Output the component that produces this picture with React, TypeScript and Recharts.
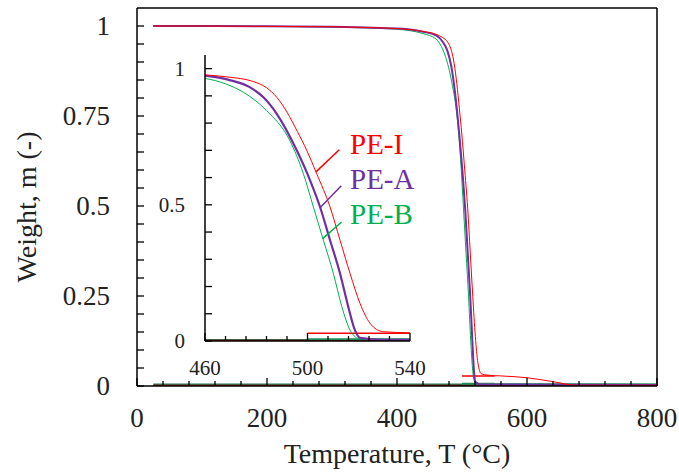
import React from 'react';
import { LineChart, Line, XAxis, YAxis, ReferenceLine } from 'recharts';

// ---- data ----
const seriesNames = ['PE-I', 'PE-A', 'PE-B'];
const colors = ['#FF0000', '#7030A0', '#00B050'];

const redT = [25, 100, 200, 300, 350, 400, 420, 440, 460, 470, 478, 484, 488, 492, 496, 499.7, 503.6, 508.8, 512.7, 516.6, 520.5, 524.4, 529.6, 540, 560, 600, 640, 677, 800];
const redW = [1.0, 1.0, 0.999, 0.998, 0.996, 0.993, 0.99, 0.985, 0.977, 0.968, 0.955, 0.93, 0.895, 0.84, 0.77, 0.7, 0.614, 0.492, 0.37, 0.248, 0.138, 0.065, 0.034, 0.03, 0.028, 0.023, 0.012, 0.002, 0.002];

const purpleT = [25, 100, 200, 300, 350, 400, 420, 440, 460, 470, 477.6, 483, 488, 495.8, 501, 504.9, 508.8, 512.7, 515.9, 518.5, 520.5, 530, 800];
const purpleW = [1.0, 1.0, 0.999, 0.998, 0.996, 0.993, 0.99, 0.984, 0.974, 0.957, 0.931, 0.893, 0.834, 0.7, 0.59, 0.492, 0.37, 0.248, 0.126, 0.04, 0.012, 0.004, 0.003];

const greenT = [25, 100, 200, 300, 350, 400, 420, 440, 460, 468, 475, 484, 493.1, 498.4, 502.3, 506.2, 510.1, 513.4, 516.6, 520, 530, 800];
const greenW = [1.0, 1.0, 0.999, 0.997, 0.995, 0.991, 0.987, 0.979, 0.964, 0.944, 0.913, 0.846, 0.736, 0.614, 0.492, 0.37, 0.248, 0.126, 0.04, 0.01, 0.006, 0.005];

// extra traces seen near the baseline
const baseT = [25, 800];
const baseRedW = [0.001, 0.001];
const baseGreenW = [0.005, 0.005];
const stubT = [500, 550];
const stubRedW = [0.028, 0.028];
const stubGreenW = [0.006, 0.006];

// ticks
const mainXTicks = [0, 40, 80, 120, 160, 200, 240, 280, 320, 360, 400, 440, 480, 520, 560, 600, 640, 680, 720, 760, 800];
const mainXLabels = [0, 200, 400, 600, 800];
const mainYTicks = [0, 0.05, 0.1, 0.15, 0.2, 0.25, 0.3, 0.35, 0.4, 0.45, 0.5, 0.55, 0.6, 0.65, 0.7, 0.75, 0.8, 0.85, 0.9, 0.95, 1];
const mainYLabels = [0, 0.25, 0.5, 0.75, 1];
const insetXTicks = [460, 468, 476, 484, 492, 500, 508, 516, 524, 532, 540];
const insetXLabels = [460, 500, 540];
const insetYTicks = [0, 0.1, 0.2, 0.3, 0.4, 0.5, 0.6, 0.7, 0.8, 0.9, 1];
const insetYLabels = [0, 0.5, 1];

const zip = (t: number[], w: number[]) => t.map((T, i) => ({ T, W: w[i] }));
const redData = zip(redT, redW);
const purpleData = zip(purpleT, purpleW);
const greenData = zip(greenT, greenW);
const baseRed = zip(baseT, baseRedW);
const baseGreen = zip(baseT, baseGreenW);
const stubRed = zip(stubT, stubRedW);
const stubGreen = zip(stubT, stubGreenW);

const FONT = '"Liberation Serif", "DejaVu Serif", serif';
const TXT = '#222';

const near = (a: number, list: number[]) => list.some((v) => Math.abs(v - a) < 1e-6);

const makeXTick = (labels: number[], major: number, minor: number, dy: number, fs: number) => (props: any) => {
  const { x, y, payload } = props;
  const isMajor = near(payload.value, labels);
  return (
    <g>
      <line x1={x} x2={x} y1={y} y2={y - (isMajor ? major : minor)} stroke="#000" strokeWidth={1.3} />
      {isMajor && (
        <text x={x} y={y + dy} textAnchor="middle" fontFamily={FONT} fontSize={fs} fill={TXT}>
          {payload.value}
        </text>
      )}
    </g>
  );
};

const makeYTick = (labels: number[], len: number, dx: number, fs: number) => (props: any) => {
  const { x, y, payload } = props;
  const isMajor = near(payload.value, labels);
  return (
    <g>
      <line x1={x} x2={x + len} y1={y} y2={y} stroke="#000" strokeWidth={1.3} />
      {isMajor && (
        <text x={x - dx} y={y} dy="0.35em" textAnchor="end" fontFamily={FONT} fontSize={fs} fill={TXT}>
          {payload.value}
        </text>
      )}
    </g>
  );
};

const series = (w: number) => [
  <Line key="b2" data={baseGreen} dataKey="W" type="linear" stroke="#1f7a5a" strokeWidth={1.5} dot={false} isAnimationActive={false} />,
  <Line key="b1" data={baseRed} dataKey="W" type="linear" stroke="#C00000" strokeWidth={2} dot={false} isAnimationActive={false} />,
  <Line key="s1" data={stubRed} dataKey="W" type="linear" stroke={colors[0]} strokeWidth={1.5} dot={false} isAnimationActive={false} />,
  <Line key="s2" data={stubGreen} dataKey="W" type="linear" stroke="#1f8a5a" strokeWidth={2} dot={false} isAnimationActive={false} />,
  <Line key="g" data={greenData} dataKey="W" type="monotoneX" stroke={colors[2]} strokeWidth={1} dot={false} isAnimationActive={false} />,
  <Line key="p" data={purpleData} dataKey="W" type="monotoneX" stroke={colors[1]} strokeWidth={w} dot={false} isAnimationActive={false} />,
  <Line key="r" data={redData} dataKey="W" type="monotoneX" stroke={colors[0]} strokeWidth={1} dot={false} isAnimationActive={false} />,
];

export default function App() {
  return (
    <div style={{ position: 'absolute', left: 0, top: 0, width: 679, height: 475, background: '#fff' }}>
      <div style={{ position: 'absolute', left: 0, top: 0 }}>
        <LineChart width={679} height={475} margin={{ top: 8, right: 22, bottom: 88, left: 136 }}>
          <XAxis
            dataKey="T"
            type="number"
            domain={[0, 800]}
            ticks={mainXTicks}
            interval={0}
            height={1}
            tickSize={0}
            tickMargin={0}
            tickLine={false}
            axisLine={{ stroke: '#000', strokeWidth: 1.5 }}
            tick={makeXTick(mainXLabels, 8, 5, 41, 27)}
            allowDataOverflow
          />
          <YAxis
            type="number"
            domain={[0, 1.05]}
            ticks={mainYTicks}
            interval={0}
            width={1}
            tickSize={0}
            tickMargin={0}
            tickLine={false}
            axisLine={{ stroke: '#000', strokeWidth: 1.5 }}
            tick={makeYTick(mainYLabels, 7, 27, 27)}
            allowDataOverflow
          />
          <ReferenceLine y={1.05} stroke="#000" strokeWidth={1.5} />
          <ReferenceLine x={800} stroke="#000" strokeWidth={1.5} />
          {series(2)}
        </LineChart>
      </div>
      <div style={{ position: 'absolute', left: 150, top: 40 }}>
        <LineChart width={280} height={345} margin={{ top: 15, right: 20, bottom: 43, left: 54 }}>
          <XAxis
            dataKey="T"
            type="number"
            domain={[460, 540]}
            ticks={insetXTicks}
            interval={0}
            height={1}
            tickSize={0}
            tickMargin={0}
            tickLine={false}
            axisLine={{ stroke: '#000', strokeWidth: 1.5 }}
            tick={makeXTick(insetXLabels, 8, 5, 34, 21)}
            allowDataOverflow
          />
          <YAxis
            type="number"
            domain={[0, 1.05]}
            ticks={insetYTicks}
            interval={0}
            width={1}
            tickSize={0}
            tickMargin={0}
            tickLine={false}
            axisLine={{ stroke: '#000', strokeWidth: 1.5 }}
            tick={makeYTick(insetYLabels, 7, 20, 21)}
            allowDataOverflow
          />
          {series(2.2)}
          <ReferenceLine segment={[{ x: 503.2, y: 0.62 }, { x: 512.4, y: 0.702 }]} stroke={colors[0]} strokeWidth={1.5} />
          <ReferenceLine segment={[{ x: 504.8, y: 0.488 }, { x: 513.2, y: 0.57 }]} stroke={colors[1]} strokeWidth={1.5} />
          <ReferenceLine segment={[{ x: 505.9, y: 0.376 }, { x: 513.3, y: 0.437 }]} stroke={colors[2]} strokeWidth={1.5} />
        </LineChart>
      </div>
      <svg width={679} height={475} style={{ position: 'absolute', left: 0, top: 0, pointerEvents: 'none' }}>
        {seriesNames.map((n, i) => (
          <text key={n} x={350} y={154 + i * 35} fontFamily={FONT} fontSize={29} fill={colors[i]}>
            {n}
          </text>
        ))}
        <text x={397} y={463} textAnchor="middle" fontFamily={FONT} fontSize={28} fill={TXT}>
          Temperature, T (°C)
        </text>
        <text x={36} y={207} textAnchor="middle" fontFamily={FONT} fontSize={28} fill={TXT} transform="rotate(-90 36 207)">
          Weight, m (-)
        </text>
      </svg>
    </div>
  );
}
